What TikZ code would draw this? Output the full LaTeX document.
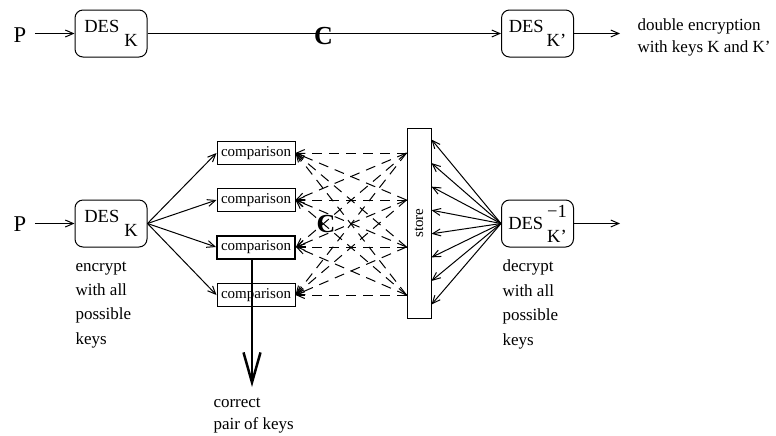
\documentclass[tikz,border=0pt]{standalone}
\usepackage{fontspec}
\setmainfont{Liberation Serif}
\usepackage{graphicx}
\usetikzlibrary{arrows.meta,calc}
\tikzset{
    desbox/.style={draw,rounded corners=4pt,minimum width=36pt,minimum height=23.5pt,inner sep=0pt,font=\fontsize{9.25}{11}\selectfont},
    cmpbox/.style={draw,minimum width=39pt,minimum height=11.5pt,inner sep=0pt,font=\fontsize{7.5}{9}\selectfont},
    plain/.style={inner sep=0pt,align=left,anchor=north west,font=\fontsize{8.5}{11}\selectfont},
    bigletter/.style={inner sep=0pt,font=\fontsize{11.3}{13}\selectfont},
    bigc/.style={inner sep=0pt,font=\fontsize{13}{15}\selectfont\bfseries},
    bigarrow/.style={line width=1.25pt,-{Straight Barb[length=15pt,width=8.5pt]}}
}
\begin{document}
\begin{tikzpicture}[x=0.5pt,y=-0.5pt,line width=0.5pt,>={Straight Barb[length=4pt,width=3.5pt]}]
        \useasboundingbox(0,0)rectangle(776,435);
        % double encryption
        \node[bigletter](p1)at(20,35.5){P};
        \node[desbox](desk1)at(111,33.5){DES\hspace{2.5pt}\raisebox{-7pt}{K}};
        \node[desbox](desk2)at(537.5,33.5){DES\hspace{1.5pt}\raisebox{-7pt}{K'}};
        \node[bigc](c1)at(323.5,36){C};
        \coordinate(out1)at(620,33.5);
        \node[plain](note)at(637,18.5){double encryption\\with keys K and K'};
        \draw[->]([xshift=4pt]p1.east|-desk1)--(desk1.west);
        \draw[->](desk1.east)--(desk2.west);
        \draw[->](desk2.east)--(out1);
        % meet in the middle
        \node[bigletter](p2)at(20,224.5){P};
        \node[desbox](desk)at(111,223.5){DES\hspace{2.5pt}\raisebox{-7pt}{K}};
        \foreach \y/\w [count=\i] in {153/0.5pt,200/0.5pt,247/1pt,295/0.5pt}
            {\node[cmpbox,line width=\w](cmp\i)at(256,\y){comparison};}
        \node[draw,minimum width=12pt,minimum height=95pt,inner sep=0pt,font=\fontsize{7.5}{9}\selectfont](store)at(419,223){\rotatebox{90}{store}};
        \node[desbox](desinv)at(537.5,223.5){DES\hspace{2pt}\rlap{\raisebox{6pt}{−1}}\raisebox{-6.5pt}{K'}};
        \node[bigc](c2)at(326,224.5){C};
        \coordinate(out2)at(620,223.5);
        \coordinate(keys)at(252,387);
        \draw[->]([xshift=4pt]p2.east|-desk)--(desk.west);
        \foreach \i in {1,...,4}
            {\draw[->](desk.east)--(cmp\i.west);}
        \foreach \i in {1,...,4}
            \foreach \j in {1,...,4}
                {\draw[dash pattern=on 5pt off 3.5pt,->](store.west|-cmp\j)--(cmp\i.east);}
        \foreach \k in {0,...,7}
            {\draw[->](desinv.west)--($(store.north east)+(0,12+23.57*\k)$);}
        \draw[->](desinv.east)--(out2);
        \draw[bigarrow]([xshift=-2pt]cmp3.south)--(keys);
        \node[plain,font=\fontsize{8.5}{12.2}\selectfont](enc)at(75,261){encrypt\\with all\\possible\\keys};
        \node[plain,font=\fontsize{8.5}{12.2}\selectfont](dec)at(502,259.5){decrypt\\with all\\possible\\keys};
        \node[plain](corr)at(213,397){correct\\pair of keys};
    \end{tikzpicture}
\end{document}
